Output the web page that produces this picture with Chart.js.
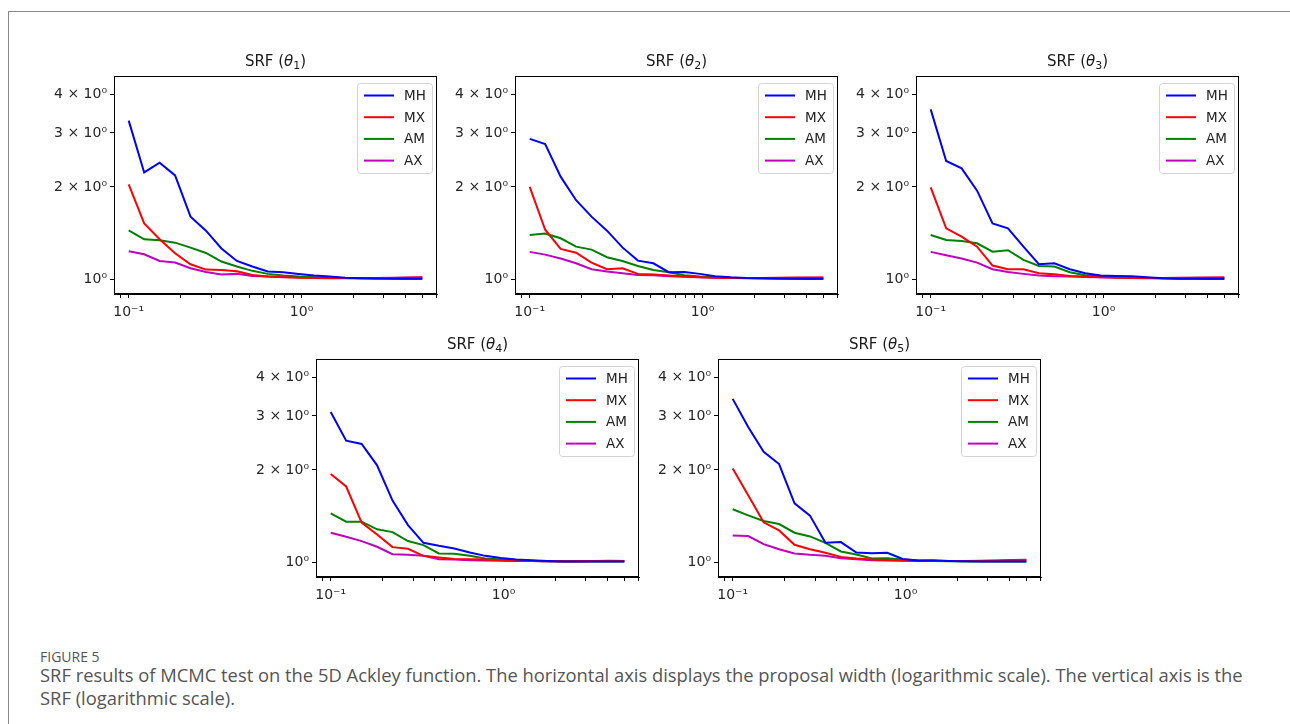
<!DOCTYPE html>
<html>
<head>
<meta charset="utf-8">
<script src="https://cdn.jsdelivr.net/npm/chart.js@4.4.1/dist/chart.umd.min.js"></script>
<style>
  body { margin: 0; background: #fff; width: 1290px; height: 724px; position: relative; overflow: hidden; }
  #frame { position: absolute; left: 8px; top: 11px; width: 1300px; height: 800px; border-top: 1px solid #8a8a8a; border-left: 1px solid #8a8a8a; }
  canvas { position: absolute; }
  #figlabel { position: absolute; left: 40px; top: 647px; font: 14px "Open Sans", sans-serif; color: #555; }
  #caption { position: absolute; left: 40px; top: 663px; font: 16px "Open Sans", sans-serif; color: #555; line-height: 23px; white-space: nowrap; }
</style>
</head>
<body>
<div id="frame"></div>
<canvas id="c1" width="409" height="294"></canvas>
<canvas id="c2" width="409" height="294"></canvas>
<canvas id="c3" width="409" height="294"></canvas>
<canvas id="c4" width="409" height="294"></canvas>
<canvas id="c5" width="409" height="294"></canvas>
<div id="figlabel">FIGURE 5</div>
<div id="caption"><span id="cap1">SRF results of MCMC test on the 5D Ackley function. The horizontal axis displays the proposal width (logarithmic scale). The vertical axis is the</span><br>SRF (logarithmic scale).</div>
<script>
// proposal widths (log spaced, 0.1 .. 5)
const widths = [0.1, 0.1229, 0.151, 0.1855, 0.2279, 0.28, 0.344, 0.4226, 0.5193, 0.638,
  0.7838, 0.963, 1.1831, 1.4536, 1.7859, 2.1941, 2.6957, 3.312, 4.0691, 5.0];

const methods = ['MH', 'MX', 'AM', 'AX'];
const methodColors = ['#0000ff', '#ff0000', '#008000', '#bf00bf'];
const panelTitles = ['1', '2', '3', '4', '5'];

// SRF values
const t1MH = [3.29, 2.23, 2.40, 2.18, 1.60, 1.44, 1.26, 1.147, 1.10, 1.06, 1.054, 1.04, 1.028, 1.02, 1.012, 1.008, 1.005, 1.004, 1.003, 1.003];
const t1MX = [2.04, 1.52, 1.35, 1.215, 1.119, 1.075, 1.072, 1.062, 1.033, 1.02, 1.015, 1.012, 1.01, 1.008, 1.007, 1.007, 1.008, 1.01, 1.012, 1.014];
const t1AM = [1.444, 1.35, 1.34, 1.316, 1.268, 1.218, 1.142, 1.10, 1.065, 1.041, 1.028, 1.02, 1.015, 1.012, 1.01, 1.008, 1.006, 1.005, 1.004, 1.004];
const t1AX = [1.234, 1.206, 1.147, 1.133, 1.086, 1.056, 1.036, 1.041, 1.025, 1.02, 1.017, 1.015, 1.012, 1.01, 1.01, 1.01, 1.01, 1.012, 1.014, 1.015];

const t2MH = [2.87, 2.76, 2.16, 1.81, 1.60, 1.44, 1.27, 1.15, 1.127, 1.054, 1.056, 1.041, 1.023, 1.015, 1.01, 1.008, 1.005, 1.004, 1.003, 1.003];
const t2MX = [2.0, 1.45, 1.255, 1.22, 1.133, 1.078, 1.086, 1.041, 1.036, 1.028, 1.02, 1.015, 1.012, 1.01, 1.01, 1.01, 1.012, 1.013, 1.013, 1.013];
const t2AM = [1.394, 1.409, 1.36, 1.277, 1.249, 1.18, 1.147, 1.105, 1.072, 1.054, 1.03, 1.02, 1.015, 1.01, 1.008, 1.006, 1.004, 1.003, 1.002, 1.002];
const t2AX = [1.228, 1.203, 1.168, 1.127, 1.078, 1.059, 1.046, 1.033, 1.03, 1.023, 1.018, 1.015, 1.012, 1.01, 1.01, 1.01, 1.01, 1.01, 1.011, 1.011];

const t3MH = [3.58, 2.43, 2.30, 1.945, 1.52, 1.466, 1.277, 1.119, 1.127, 1.078, 1.046, 1.028, 1.025, 1.023, 1.015, 1.008, 1.004, 1.003, 1.003, 1.003];
const t3MX = [1.994, 1.466, 1.377, 1.277, 1.108, 1.078, 1.078, 1.046, 1.038, 1.025, 1.02, 1.015, 1.012, 1.01, 1.01, 1.01, 1.011, 1.012, 1.013, 1.013];
const t3AM = [1.394, 1.343, 1.333, 1.31, 1.23, 1.243, 1.156, 1.105, 1.10, 1.054, 1.03, 1.02, 1.015, 1.01, 1.008, 1.005, 1.004, 1.003, 1.002, 1.002];
const t3AX = [1.228, 1.197, 1.168, 1.133, 1.078, 1.056, 1.041, 1.028, 1.023, 1.02, 1.017, 1.015, 1.013, 1.012, 1.01, 1.01, 1.01, 1.011, 1.012, 1.013];

const t4MH = [3.09, 2.49, 2.43, 2.07, 1.589, 1.322, 1.157, 1.131, 1.109, 1.076, 1.049, 1.033, 1.02, 1.015, 1.01, 1.006, 1.005, 1.005, 1.005, 1.005];
const t4MX = [1.94, 1.766, 1.346, 1.232, 1.12, 1.106, 1.049, 1.036, 1.025, 1.023, 1.02, 1.015, 1.012, 1.01, 1.008, 1.008, 1.008, 1.01, 1.012, 1.01];
const t4AM = [1.444, 1.356, 1.356, 1.28, 1.254, 1.172, 1.137, 1.068, 1.065, 1.049, 1.028, 1.02, 1.015, 1.01, 1.008, 1.006, 1.005, 1.005, 1.005, 1.005];
const t4AX = [1.248, 1.211, 1.172, 1.123, 1.062, 1.057, 1.049, 1.023, 1.02, 1.015, 1.013, 1.012, 1.01, 1.01, 1.008, 1.008, 1.008, 1.009, 1.01, 1.01];

const t5MH = [3.41, 2.76, 2.29, 2.09, 1.557, 1.419, 1.157, 1.163, 1.076, 1.07, 1.073, 1.025, 1.013, 1.015, 1.01, 1.007, 1.005, 1.005, 1.005, 1.005];
const t5MX = [2.02, 1.654, 1.349, 1.27, 1.14, 1.103, 1.073, 1.041, 1.028, 1.02, 1.016, 1.013, 1.012, 1.01, 1.01, 1.01, 1.01, 1.012, 1.014, 1.015];
const t5AM = [1.488, 1.422, 1.363, 1.332, 1.248, 1.214, 1.157, 1.084, 1.06, 1.028, 1.031, 1.02, 1.013, 1.01, 1.008, 1.006, 1.005, 1.005, 1.005, 1.005];
const t5AX = [1.223, 1.217, 1.146, 1.103, 1.068, 1.057, 1.049, 1.031, 1.023, 1.015, 1.013, 1.012, 1.01, 1.01, 1.01, 1.01, 1.012, 1.014, 1.016, 1.018];

// axis ticks
const xTickValues = [0.09, 0.1, 0.2, 0.3, 0.4, 0.5, 0.6, 0.7, 0.8, 0.9, 1, 2, 3, 4, 5, 6];
const xTickLabels = ['', '10⁻¹', '', '', '', '', '', '', '', '', '10⁰', '', '', '', '', ''];
const yTickValues = [1, 2, 3, 4];
const yTickLabels = ['10⁰', '2 × 10⁰', '3 × 10⁰', '4 × 10⁰'];

const panels = [
  { id: 'c1', left: 114, top: 76, data: [t1MH, t1MX, t1AM, t1AX] },
  { id: 'c2', left: 515, top: 76, data: [t2MH, t2MX, t2AM, t2AX] },
  { id: 'c3', left: 916, top: 76, data: [t3MH, t3MX, t3AM, t3AX] },
  { id: 'c4', left: 316, top: 359, data: [t4MH, t4MX, t4AM, t4AX] },
  { id: 'c5', left: 718, top: 359, data: [t5MH, t5MX, t5AM, t5AX] }
];

const FONT = '"DejaVu Sans", sans-serif';

// size the caption so its first line spans the same width as in the figure
const cap = document.getElementById('caption');
const capW = document.getElementById('cap1').getBoundingClientRect().width;
cap.style.fontSize = (16 * 1203 / capW).toFixed(2) + 'px';

// box round the axes, panel title and a matplotlib-like legend inside the plot
const panelDecor = {
  id: 'panelDecor',
  afterDraw(chart) {
    const ctx = chart.ctx;
    const a = chart.chartArea;
    const opt = chart.options.plugins.panelDecor;
    ctx.save();
    ctx.strokeStyle = '#000';
    ctx.lineWidth = 1;
    ctx.strokeRect(a.left + 0.5, a.top + 0.5, a.right - a.left - 1, a.bottom - a.top - 1);

    // title: SRF (θ_n)
    ctx.fillStyle = '#1a1a1a';
    ctx.textBaseline = 'alphabetic';
    const y0 = a.top - 10;
    const p1 = 'SRF (';
    ctx.font = '15px ' + FONT;
    const w1 = ctx.measureText(p1).width;
    ctx.font = 'italic 15px ' + FONT;
    const w2 = ctx.measureText('θ').width;
    ctx.font = '11px ' + FONT;
    const w3 = ctx.measureText(opt.sub).width;
    ctx.font = '15px ' + FONT;
    const w4 = ctx.measureText(')').width;
    let x = (a.left + a.right) / 2 - (w1 + w2 + w3 + w4) / 2;
    ctx.textAlign = 'left';
    ctx.font = '15px ' + FONT;
    ctx.fillText(p1, x, y0); x += w1;
    ctx.font = 'italic 15px ' + FONT;
    ctx.fillText('θ', x, y0); x += w2;
    ctx.font = '11px ' + FONT;
    ctx.fillText(opt.sub, x, y0 + 3); x += w3;
    ctx.font = '15px ' + FONT;
    ctx.fillText(')', x, y0);

    // legend
    const bw = 75, bh = 90;
    const bx = a.right - 5 - bw, by = a.top + 7;
    ctx.beginPath();
    ctx.roundRect(bx + 0.5, by + 0.5, bw, bh, 3);
    ctx.fillStyle = 'rgba(255,255,255,0.85)';
    ctx.fill();
    ctx.strokeStyle = '#d4d4d4';
    ctx.stroke();
    ctx.font = '13.5px ' + FONT;
    ctx.textBaseline = 'middle';
    chart.data.datasets.forEach((ds, i) => {
      const ry = by + 12.5 + i * 21.7;
      ctx.strokeStyle = ds.borderColor;
      ctx.lineWidth = 2;
      ctx.beginPath();
      ctx.moveTo(bx + 7, ry);
      ctx.lineTo(bx + 37, ry);
      ctx.stroke();
      ctx.fillStyle = '#222';
      ctx.fillText(ds.label, bx + 47, ry + 1);
    });
    ctx.restore();
  }
};

panels.forEach((p, n) => {
  const cv = document.getElementById(p.id);
  cv.style.left = (p.left - 74) + 'px';
  cv.style.top = (p.top - 40) + 'px';

  const datasets = methods.map((m, i) => ({
    label: m,
    data: widths.map((w, k) => ({ x: w, y: p.data[i][k] })),
    borderColor: methodColors[i],
    borderWidth: 2,
    pointRadius: 0,
    tension: 0,
    fill: false
  }));

  new Chart(cv.getContext('2d'), {
    type: 'line',
    data: { datasets: datasets },
    plugins: [panelDecor],
    options: {
      responsive: false,
      animation: false,
      devicePixelRatio: 1,
      layout: { padding: { top: 40, right: 12, left: 0, bottom: 0 } },
      plugins: {
        legend: { display: false },
        tooltip: { enabled: false },
        panelDecor: { sub: panelTitles[n] }
      },
      scales: {
        x: {
          type: 'logarithmic',
          min: 0.0822,
          max: 6.08,
          afterFit: s => { s.height = 36; },
          afterBuildTicks: s => { s.ticks = xTickValues.map(v => ({ value: v })); },
          border: { display: true, color: '#000', width: 1 },
          grid: { drawOnChartArea: false, drawTicks: true, tickLength: 4, color: '#000' },
          ticks: {
            autoSkip: false, maxRotation: 0, padding: 6,
            color: '#262626', font: { family: FONT, size: 14 },
            callback: v => xTickLabels[xTickValues.indexOf(v)]
          }
        },
        y: {
          type: 'logarithmic',
          min: 0.895,
          max: 4.6,
          afterFit: s => { s.width = 74; },
          afterBuildTicks: s => { s.ticks = yTickValues.map(v => ({ value: v })); },
          border: { display: true, color: '#000', width: 1 },
          grid: { drawOnChartArea: false, drawTicks: true, tickLength: 4, color: '#000' },
          ticks: {
            autoSkip: false, padding: 3,
            color: '#262626', font: { family: FONT, size: 14 },
            callback: v => yTickLabels[yTickValues.indexOf(v)]
          }
        }
      }
    }
  });
});
</script>
</body>
</html>
